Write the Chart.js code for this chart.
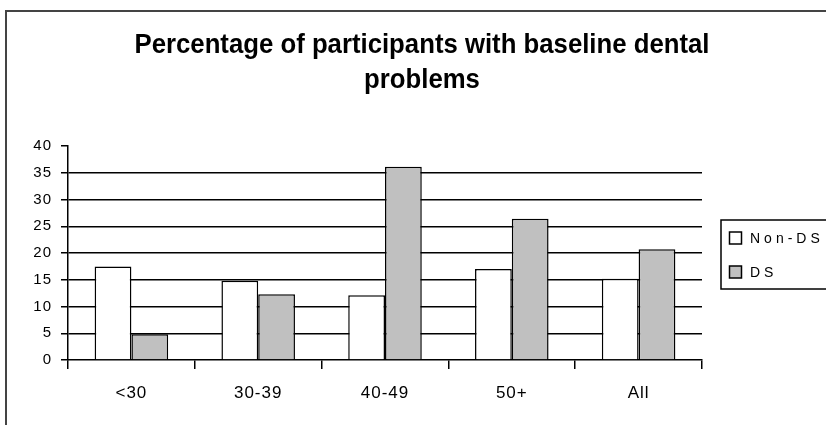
<!DOCTYPE html>
<html>
<head>
<meta charset="utf-8">
<script src="https://cdn.jsdelivr.net/npm/chart.js@4.4.1/dist/chart.umd.min.js"></script>
<style>
  html, body { margin: 0; padding: 0; background: #fff; overflow: hidden; }
  #wrap { position: relative; width: 826px; height: 425px; }
  #frame { position: absolute; left: 5px; top: 10px; width: 900px; height: 500px;
           border-left: 2px solid #444; border-top: 2px solid #444; }
  #chartCanvas { position: absolute; left: 0; top: 0; }
</style>
</head>
<body>
<div id="wrap">
  <div id="frame"></div>
  <canvas id="chartCanvas" width="826" height="425"></canvas>
</div>
<script>
/* Chart data */
var ageGroups = ['<30', '30-39', '40-49', '50+', 'All'];
var nonDsValues = [17.5, 14.8, 12.1, 17.0, 15.2];
var dsValues = [4.8, 12.3, 36.1, 26.4, 20.7];
var seriesNames = ['Non-DS', 'DS'];
var titleLines = ['Percentage of participants with baseline dental', 'problems'];
var yTicks = [0, 5, 10, 15, 20, 25, 30, 35, 40];

var FONT = '"Liberation Sans", Arial, sans-serif';

/* Title and boxed legend, drawn after the chart */
var extrasPlugin = {
    id: 'extras',
    beforeDraw: function(chart) {
        // excel-like loose spacing on the axis labels
        chart.ctx.letterSpacing = '1px';
    },
    afterDraw: function(chart) {
        var ctx = chart.ctx;
        ctx.save();
        ctx.letterSpacing = '0px';

        // title, squeezed to look like a narrow bold face
        ctx.fillStyle = '#000';
        ctx.textAlign = 'center';
        ctx.textBaseline = 'alphabetic';
        ctx.font = 'bold 27px ' + FONT;
        var squeeze = 575 / ctx.measureText(titleLines[0]).width;
        ctx.save();
        ctx.translate(422, 0);
        ctx.scale(squeeze, 1);
        ctx.fillText(titleLines[0], 0, 53);
        ctx.fillText(titleLines[1], 0, 88);
        ctx.restore();

        // legend box
        ctx.lineWidth = 1.5;
        ctx.strokeStyle = '#000';
        ctx.strokeRect(721, 220, 130, 69);

        ctx.textAlign = 'left';
        ctx.textBaseline = 'middle';
        ctx.font = '14px ' + FONT;
        ctx.letterSpacing = '4px';
        var datasets = chart.data.datasets;
        for (var i = 0; i < datasets.length; i++) {
            var y = 238 + i * 34;
            ctx.fillStyle = datasets[i].backgroundColor;
            ctx.fillRect(729.5, y - 6, 12, 12);
            ctx.strokeRect(729.5, y - 6, 12, 12);
            ctx.fillStyle = '#000';
            ctx.fillText(datasets[i].label, 750, y + 1);
        }
        ctx.restore();
    }
};

var ctx = document.getElementById('chartCanvas').getContext('2d');
var chartData = {
    type: 'bar',
    data: {
        labels: ageGroups,
        datasets: [{
            label: seriesNames[0],
            data: nonDsValues,
            backgroundColor: '#ffffff',
            borderColor: '#000000',
            borderWidth: 1.5
        }, {
            label: seriesNames[1],
            data: dsValues,
            backgroundColor: '#c0c0c0',
            borderColor: '#000000',
            borderWidth: 1.5
        }]
    },
    options: {
        responsive: false,
        animation: false,
        layout: { padding: { left: 0, right: 124, top: 146, bottom: 0 } },
        datasets: {
            bar: { categoryPercentage: 0.58, barPercentage: 1.0 }
        },
        plugins: {
            legend: { display: false },
            title: { display: false },
            tooltip: { enabled: false }
        },
        scales: {
            x: {
                afterFit: function(scale) { scale.height = 65; },
                grid: {
                    drawOnChartArea: false,
                    drawTicks: true,
                    tickLength: 9,
                    tickColor: '#000',
                    lineWidth: 1.5
                },
                border: { display: true, color: '#000', width: 1.5 },
                ticks: {
                    color: '#000',
                    padding: 14,
                    font: { family: FONT, size: 17 }
                }
            },
            y: {
                min: 0,
                max: 40,
                afterFit: function(scale) { scale.width = 68; },
                afterBuildTicks: function(scale) {
                    scale.ticks = yTicks.map(function(v) { return { value: v }; });
                },
                grid: {
                    color: function(c) {
                        return (c.tick && (c.tick.value === 40 || c.tick.value === 0)) ? 'rgba(0,0,0,0)' : '#000';
                    },
                    lineWidth: 1.5,
                    drawTicks: true,
                    tickLength: 7,
                    tickColor: '#000'
                },
                border: { display: true, color: '#000', width: 1.5 },
                ticks: {
                    color: '#000',
                    padding: 9,
                    font: { family: FONT, size: 15 }
                }
            }
        }
    },
    plugins: [extrasPlugin]
};
var chart = new Chart(ctx, chartData);
</script>
</body>
</html>
